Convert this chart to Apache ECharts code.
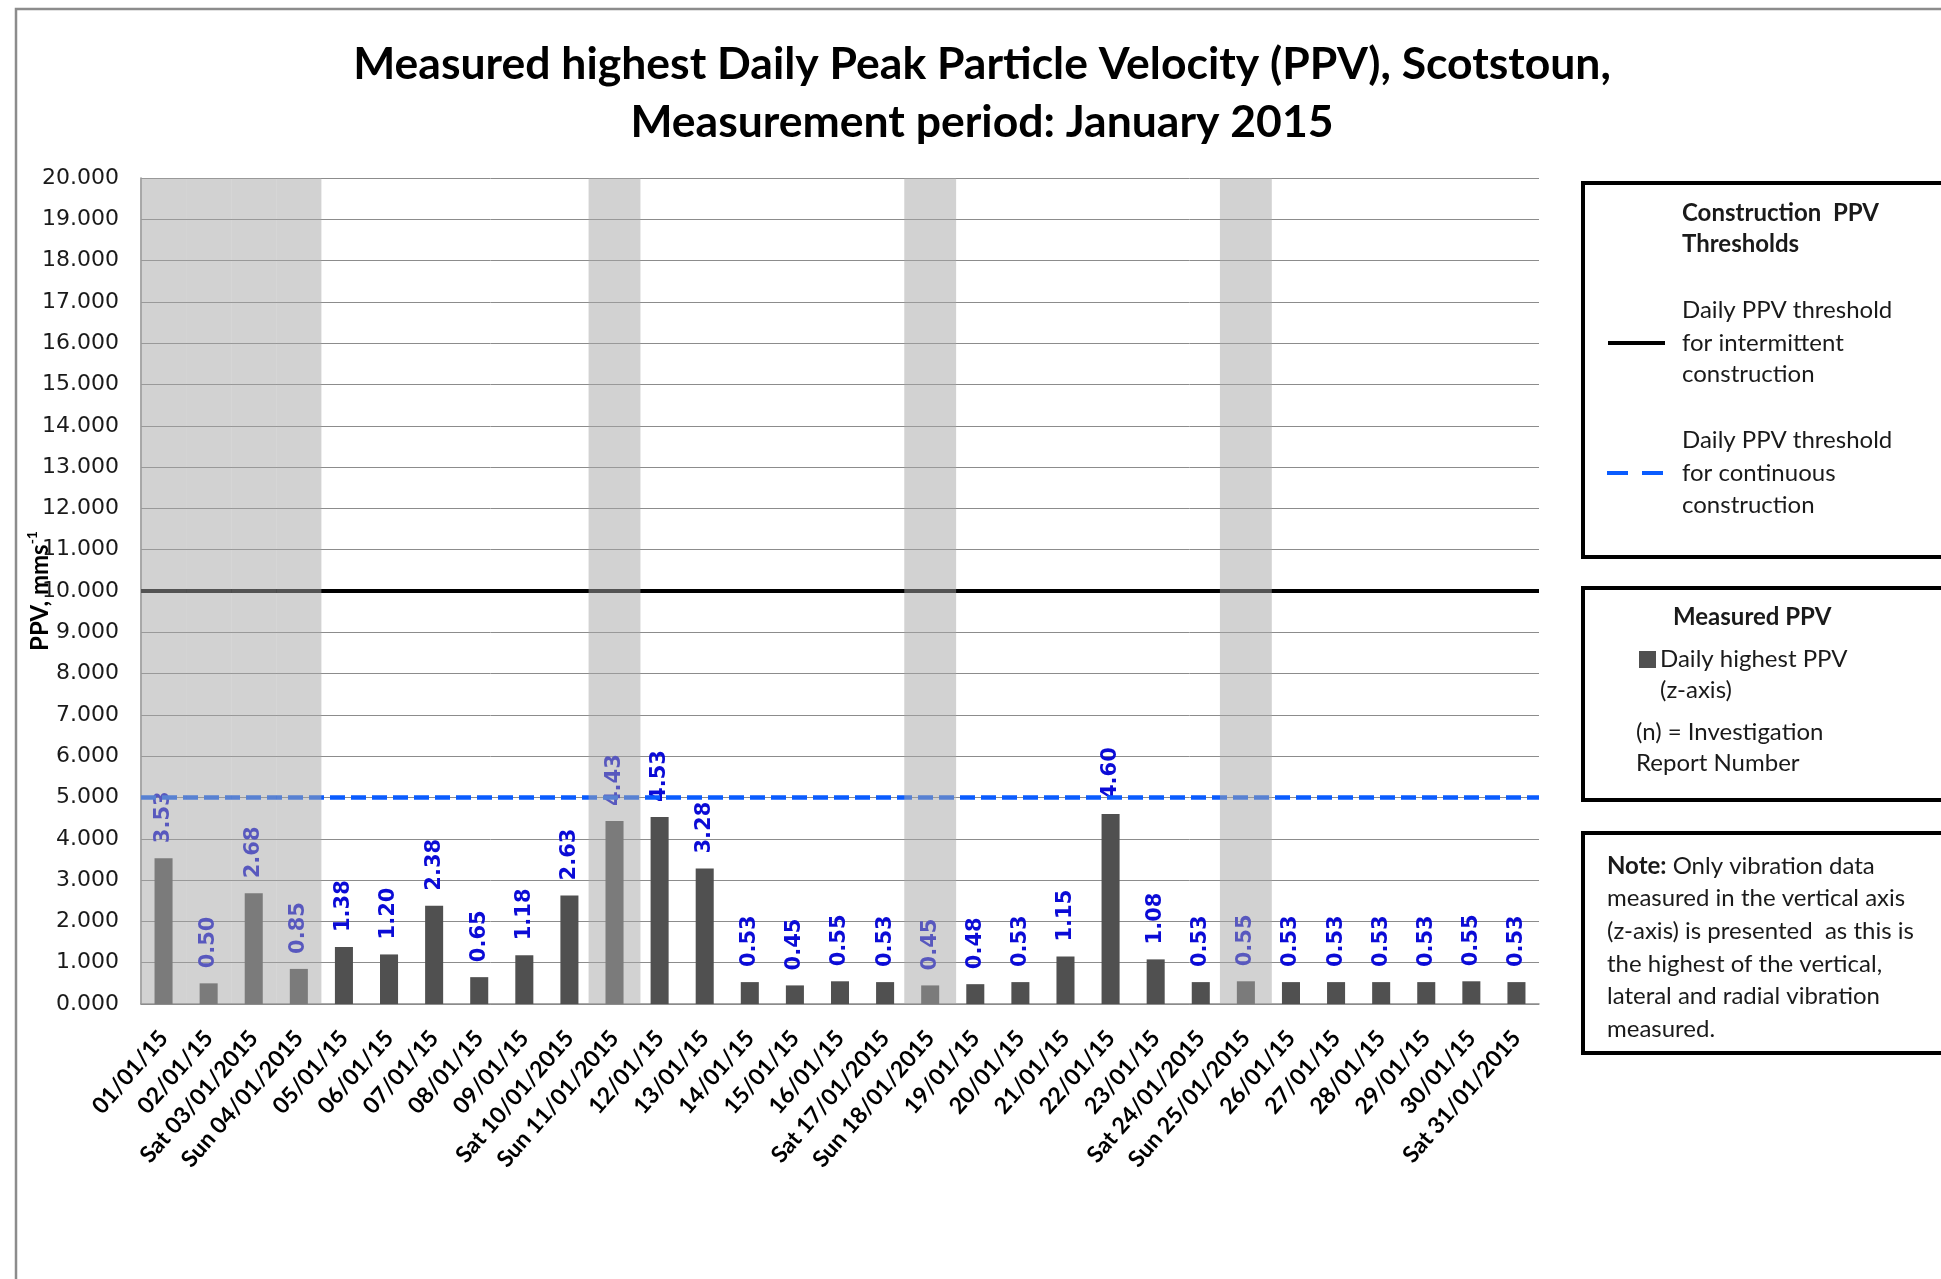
<!DOCTYPE html>
<html>
<head>
<meta charset="utf-8">
<title>Measured highest Daily PPV - Scotstoun - January 2015</title>
<script src="https://cdn.jsdelivr.net/npm/echarts@6/dist/echarts.min.js"></script>
<style>
    html, body { margin: 0; padding: 0; background: #fff; }
    #ppv-chart { width: 1941px; height: 1279px; }
</style>
</head>
<body>
<div id="ppv-chart"></div>
<script>
// days of the measurement period (x axis)
var days = ['01/01/15', '02/01/15', 'Sat 03/01/2015', 'Sun 04/01/2015', '05/01/15', '06/01/15',
    '07/01/15', '08/01/15', '09/01/15', 'Sat 10/01/2015', 'Sun 11/01/2015', '12/01/15', '13/01/15',
    '14/01/15', '15/01/15', '16/01/15', 'Sat 17/01/2015', 'Sun 18/01/2015', '19/01/15', '20/01/15',
    '21/01/15', '22/01/15', '23/01/15', 'Sat 24/01/2015', 'Sun 25/01/2015', '26/01/15', '27/01/15',
    '28/01/15', '29/01/15', '30/01/15', 'Sat 31/01/2015'];

// daily highest PPV (z-axis), mm/s
var dailyPPV = [3.53, 0.50, 2.68, 0.85, 1.38, 1.20, 2.38, 0.65, 1.18, 2.63, 4.43, 4.53, 3.28,
    0.53, 0.45, 0.55, 0.53, 0.45, 0.48, 0.53, 1.15, 4.60, 1.08, 0.53, 0.55, 0.53, 0.53, 0.53,
    0.53, 0.55, 0.53];

// grey blocks over non-working days (top of the block, '-' = no block)
var newYearBlock = [20, 20, 20, 20, '-', '-', '-', '-', '-', '-', '-', '-', '-', '-', '-', '-',
    '-', '-', '-', '-', '-', '-', '-', '-', '-', '-', '-', '-', '-', '-', '-'];
var sundayBlock = ['-', '-', '-', '-', '-', '-', '-', '-', '-', '-', 20, '-', '-', '-', '-', '-',
    '-', 20, '-', '-', '-', '-', '-', '-', 20, '-', '-', '-', '-', '-', '-'];

// y axis range
var yMin = 0;
var yMax = 20;
var yStep = 1;

// thresholds
var intermittentLimit = 10;
var continuousLimit = 5;

// right hand boxes
var noteLines = [
    '{b|Note:} Only vibration data',
    'measured in the vertical axis',
    '(z-axis) is presented  as this is',
    'the highest of the vertical,',
    'lateral and radial vibration',
    'measured.'
];

var myChart = echarts.init(document.getElementById('ppv-chart'));

var shadeColor = 'rgba(166,166,166,0.5)';
var boxFont = 'Lato';
var boxFontSize = 24;

/**
 * [one line of text in the boxes]
 */
function boxText(x, y, text, bold) {
    return {
        type: 'text',
        x: x,
        y: y,
        style: {
            text: text,
            fontFamily: boxFont,
            fontSize: boxFontSize,
            fontWeight: bold ? 'bold' : 'normal',
            fill: '#1a1a1a',
            textVerticalAlign: 'middle'
        }
    };
}

/**
 * [box with a thick black border]
 */
function box(y, h) {
    return {
        type: 'rect',
        shape: { x: 1583, y: y, width: 420, height: h },
        style: { fill: '#fff', stroke: '#000', lineWidth: 4 }
    };
}

var graphics = [
    // frame of the picture
    {
        type: 'polyline',
        shape: { points: [[16, 1279], [16, 9], [1941, 9]] },
        style: { stroke: '#8c8c8c', lineWidth: 2.5, fill: null }
    },
    box(183, 374),
    boxText(1682, 213, 'Construction  PPV', true),
    boxText(1682, 244, 'Thresholds', true),
    boxText(1682, 310, 'Daily PPV threshold'),
    boxText(1682, 343, 'for intermittent'),
    boxText(1682, 374, 'construction'),
    boxText(1682, 440, 'Daily PPV threshold'),
    boxText(1682, 473, 'for continuous'),
    boxText(1682, 505, 'construction'),
    {
        type: 'line',
        shape: { x1: 1608, y1: 343, x2: 1665, y2: 343 },
        style: { stroke: '#000', lineWidth: 4 }
    },
    {
        type: 'line',
        shape: { x1: 1607, y1: 473, x2: 1663, y2: 473 },
        style: { stroke: '#0a5cff', lineWidth: 4, lineDash: [21, 14] }
    },
    box(588, 212),
    boxText(1673, 617, 'Measured PPV', true),
    {
        type: 'rect',
        shape: { x: 1639, y: 651, width: 17, height: 17 },
        style: { fill: '#505050' }
    },
    boxText(1660, 659, 'Daily highest PPV'),
    boxText(1660, 690, '(z-axis)'),
    boxText(1636, 732, '(n) = Investigation'),
    boxText(1636, 763, 'Report Number'),
    box(833, 220)
];

for (let i = 0; i < noteLines.length; i++) {
    let t = boxText(1607, 866 + i * 32.6, noteLines[i]);
    t.style.rich = { b: { fontFamily: boxFont, fontSize: boxFontSize, fontWeight: 'bold', fill: '#1a1a1a' } };
    graphics.push(t);
}

var hiddenAxis = {
    type: 'category',
    data: days,
    show: false
};

var option = {
    backgroundColor: '#fff',
    animation: false,
    title: {
        text: 'Measured highest Daily Peak Particle Velocity (PPV), Scotstoun,\nMeasurement period: January 2015',
        left: 982,
        top: 36,
        padding: 0,
        textAlign: 'center',
        textStyle: {
            fontFamily: 'Lato',
            fontWeight: 'bold',
            fontSize: 44.5,
            lineHeight: 58,
            color: '#000'
        }
    },
    grid: {
        left: 141,
        right: 402,
        top: 178,
        bottom: 275,
        outerBoundsMode: 'none'
    },
    xAxis: [
        {
            type: 'category',
            data: days,
            axisTick: { show: false },
            axisLine: { lineStyle: { color: '#8c8c8c', width: 1.5 } },
            axisLabel: {
                interval: 0,
                rotate: 49,
                margin: 30,
                fontFamily: 'Lato',
                fontWeight: 'bold',
                fontSize: 23,
                color: '#000'
            }
        },
        Object.assign({}, hiddenAxis),
        Object.assign({}, hiddenAxis)
    ],
    yAxis: {
        type: 'value',
        min: yMin,
        max: yMax,
        interval: yStep,
        name: '{a|PPV, mms}{s|-1}',
        nameLocation: 'middle',
        nameGap: 86,
        nameMoveOverlap: false,
        nameTextStyle: {
            rich: {
                a: { fontFamily: 'Lato', fontWeight: 'bold', fontSize: 24, color: '#000', lineHeight: 30 },
                s: { fontFamily: 'Lato', fontWeight: 'bold', fontSize: 14, color: '#000', verticalAlign: 'top', lineHeight: 30 }
            }
        },
        axisLine: { show: true, lineStyle: { color: '#8c8c8c', width: 1.5 } },
        axisTick: { show: false },
        splitLine: { lineStyle: { color: '#8c8c8c', width: 1 } },
        axisLabel: {
            margin: 22,
            fontFamily: 'DejaVu Sans',
            fontSize: 22,
            color: '#1a1a1a',
            formatter: function (v) {
                return v.toFixed(3);
            }
        }
    },
    series: [
        {
            name: 'Daily highest PPV (z-axis)',
            type: 'bar',
            xAxisIndex: 0,
            data: dailyPPV,
            barWidth: '40%',
            z: 2,
            itemStyle: { color: '#505050' },
            label: {
                show: true,
                position: 'top',
                distance: 15,
                rotate: 90,
                align: 'left',
                verticalAlign: 'middle',
                fontFamily: 'DejaVu Sans',
                fontWeight: 'bold',
                fontSize: 21,
                color: '#0b0bd6',
                formatter: function (p) {
                    return p.value.toFixed(2);
                }
            },
            markLine: {
                silent: true,
                symbol: 'none',
                label: { show: false },
                data: [
                    { yAxis: intermittentLimit, lineStyle: { color: '#000', width: 4, type: 'solid' } },
                    { yAxis: continuousLimit, lineStyle: { color: '#0a5cff', width: 4.5, type: [15, 6] } }
                ]
            }
        },
        {
            name: 'New year holiday',
            type: 'bar',
            xAxisIndex: 1,
            data: newYearBlock,
            barWidth: '100%',
            silent: true,
            z: 10,
            itemStyle: { color: shadeColor }
        },
        {
            name: 'Sunday',
            type: 'bar',
            xAxisIndex: 2,
            data: sundayBlock,
            barWidth: '115%',
            silent: true,
            z: 10,
            itemStyle: { color: shadeColor }
        }
    ],
    graphic: graphics
};

myChart.setOption(option);
</script>
</body>
</html>
